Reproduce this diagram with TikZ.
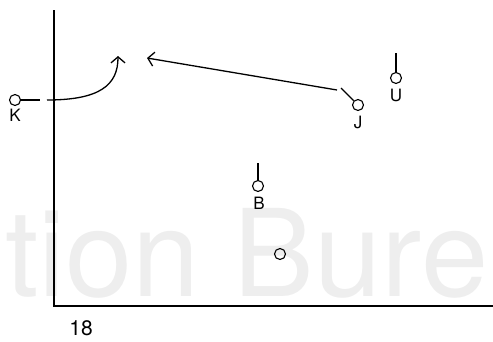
\documentclass[tikz,border=0pt]{standalone}
\usepackage{fontspec}
\setmainfont{TeX Gyre Heros}
\usetikzlibrary{arrows.meta}
\begin{document}
\begin{tikzpicture}[x=1pt,y=-1pt,
  axis/.style={line width=1.5pt},
  pt/.style={circle,draw,line width=1.1pt,minimum size=11pt,inner sep=0pt},
  lab/.style={font=\fontsize{17}{17}\selectfont,inner sep=0pt},
  stub/.style={line width=1.1pt},
  arr/.style={line width=1.3pt,-{Straight Barb[length=6pt,width=14pt,line width=1.3pt]}}]
\useasboundingbox (0,0) rectangle (493,341);
\node[anchor=base west, text=gray!13, font=\fontsize{121}{121}\selectfont, inner sep=0pt, text depth=0pt] (wm) at (5,296) {tion Bure};
\coordinate (ytop) at (54,10);
\coordinate (origin) at (54,306);
\coordinate (xend) at (493,306);
\draw[axis] (ytop) -- (origin) -- (xend);
\node[anchor=base, font=\fontsize{21}{21}\selectfont, inner sep=0pt] (n18) at (81,335) {18};
% K
\node[pt] (K) at (15,100) {};
\node[lab] (Klab) at (15,115) {K};
\coordinate (Kend) at (40,100);
\draw[stub] (K) -- (Kend);
\coordinate (c0) at (47,100);
\coordinate (c1) at (118,56);
\draw[arr] (c0) .. controls (100,100) and (118,85) .. (c1);
% J
\node[pt] (J) at (358,105) {};
\node[lab] (Jlab) at (358,122) {J};
\coordinate (Jt) at (341,88);
\draw[stub] (J) -- (Jt);
\coordinate (ja) at (337,90);
\coordinate (tip) at (147,58);
\draw[arr] (ja) -- (tip);
% U
\node[pt] (U) at (396,78) {};
\node[lab] (Ulab) at (396,95) {U};
\coordinate (Ut) at (396,53);
\draw[stub] (U) -- (Ut);
% B
\node[pt] (B) at (258,186) {};
\node[lab] (Blab) at (259,203) {B};
\coordinate (Bt) at (258,163);
\draw[stub] (B) -- (Bt);
% lone circle
\node[pt] (O) at (280,254) {};
\end{tikzpicture}
\end{document}
